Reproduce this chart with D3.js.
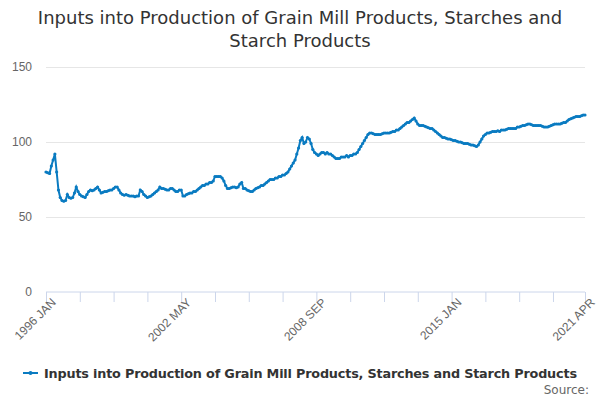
<!DOCTYPE html>
<html><head><meta charset="utf-8">
<script src="https://cdn.jsdelivr.net/npm/d3@7"></script>
<style>body{margin:0;background:#fff;font-family:"Lucida Grande","DejaVu Sans",sans-serif;}</style>
</head><body><svg id="c" width="600" height="400"></svg>
<script>
const titleLines = ["Inputs into Production of Grain Mill Products, Starches and", "Starch Products"];
const seriesName = "Inputs into Production of Grain Mill Products, Starches and Starch Products";
const monthNames = ["JAN","FEB","MAR","APR","MAY","JUN","JUL","AUG","SEP","OCT","NOV","DEC"];
const values = [
80,79.5,79,84,88,92,80,68,63,61,60.5,61,
65,63,62.5,63,66,70,67,65,64,63.5,63,65,
67,68,67.5,68,69,70,68,66,66.5,67,67,67.5,
68,68,69,70,70,68,66,65,64.5,65,64.5,64,
64,64,63.5,64,64,68,67,65,64,63,63.5,64,
65,66,67,68,70,69,69,68.5,68,68,69,69,
68,67,67,68,68,64,64,65,65.5,66,66,67,
67,68,69,70,71,71,72,72,73,73,74,77,
77,77,77,76,74,71,69,69,69.5,70,70,69.5,
70,72,73,69,69,68,67.5,67,67,68,69,69.5,
70,71,71,72,73,74,75,75,75,76,76,77,
77,78,78,79,80,82,84,86,88,92,96,101,
103,99,100,103,102,99,95,93,92,91,92,93,
93,92,93,92,92,91,90,89,89,89,90,90,
90,91,90,91,91,92,92,93,95,97,99,101,
103,105,106,106,105.5,105,105,105,105,105.5,106,106,
106,106,106.5,107,107,108,108,109,110,111,112,113,
113,114,115,116,114,112,111,111,111,110.5,110,109.5,
109,109,108,107,106,105,104,103,103,102.5,102,102,
101.5,101,101,100.5,100,100,99.5,99,99,99,98.5,98,
98,97.5,97,98,100,102,104,105,106,106,106.5,107,
107,107,107.5,107,108,108,108,108.5,109,109,109,109,
109,110,110,110.5,111,111,111.5,112,112,111.5,111,111,
111,111,111,110.5,110,110,110,110.5,111,111.5,112,112,
112,112,112.5,113,113,114,115,115.5,116,116.5,117,117,
117,117.5,118,118];
const categories = values.map((v,i)=> (1996+Math.floor(i/12))+" "+monthNames[i%12]);
const tickLabels = ["1996 JAN","2002 MAY","2008 SEP","2015 JAN","2021 APR"];
const yTicks = [0,50,100,150];

const svg = d3.select("#c");
const L=46, R=585, T=67, B=292;
const x = d3.scalePoint().domain(categories).range([L,R]);
const y = d3.scaleLinear().domain([0,150]).range([B,T]);
const col = "#0a7bc1";

const t = svg.append("text").attr("x",300).attr("text-anchor","middle").attr("fill","#333").style("font-size","18px");
titleLines.forEach((s,i)=>t.append("tspan").attr("x",300).attr("y",24+i*23).text(s));

const yAxis = svg.append("g").attr("transform",`translate(${L},0)`)
  .call(d3.axisLeft(y).tickValues(yTicks).tickSize(-(R-L)).tickPadding(14));
yAxis.select(".domain").remove();
yAxis.selectAll("line").attr("stroke","#e6e6e6");
yAxis.selectAll("text").attr("fill","#666").style("font-size","12px");
yAxis.selectAll(".tick").filter(d=>d===0).select("line").remove();

const tickCats = categories.filter((c,i)=> i%19===0 || i===categories.length-1);
const xAxis = svg.append("g").attr("transform",`translate(0,${B})`)
  .call(d3.axisBottom(x).tickValues(tickCats).tickSize(10).tickFormat(d=>tickLabels.includes(d)?d:""));
xAxis.select(".domain").attr("stroke","#ccd6eb").attr("d",`M${L},0H${R}`);
xAxis.selectAll("line").attr("stroke","#ccd6eb");
xAxis.selectAll("text").attr("fill","#666").style("font-size","12px")
  .attr("text-anchor","end").attr("transform","translate(3,4) rotate(-45)").attr("dy","0.35em").attr("y",6).attr("x",0);

const line = d3.line().x((d,i)=>x(categories[i])).y(d=>y(d));
svg.append("path").datum(values).attr("d",line).attr("fill","none").attr("stroke",col).attr("stroke-width",2);
svg.append("g").selectAll("circle").data(values).join("circle")
  .attr("cx",(d,i)=>x(categories[i])).attr("cy",d=>y(d)).attr("r",1.6).attr("fill",col);

const lg = svg.append("g");
lg.append("line").attr("x1",23).attr("x2",38).attr("y1",373).attr("y2",373).attr("stroke",col).attr("stroke-width",2);
lg.append("circle").attr("cx",30.5).attr("cy",373).attr("r",2).attr("fill",col);
lg.append("text").attr("x",44).attr("y",378).attr("fill","#333").style("font-size","12.8px").style("font-weight","bold").attr("textLength",533).text(seriesName);
svg.append("text").attr("x",589).attr("y",394).attr("text-anchor","end").attr("fill","#666").style("font-size","12px").text("Source:");
</script></body></html>
